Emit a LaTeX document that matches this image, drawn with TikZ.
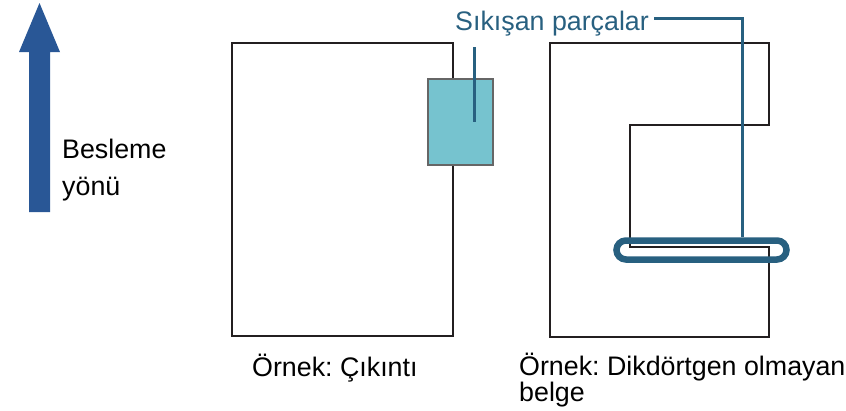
\documentclass[tikz,border=0pt]{standalone}
\usepackage{fontspec}
\setmainfont{Liberation Sans}
\usepackage{xcolor}
\usetikzlibrary{positioning}
\definecolor{feedblue}{RGB}{41,87,150}
\definecolor{jamblue}{RGB}{40,96,128}
\definecolor{bumpcyan}{RGB}{118,195,207}
\definecolor{paper}{RGB}{35,31,32}
\frenchspacing

\begin{document}
\begin{tikzpicture}[x=1pt, y=-1pt,
    txt/.style={inner sep=0pt, anchor=base west, font=\fontsize{26.8}{27}\selectfont},
    doc/.style={draw=paper, line width=2.6pt, line join=miter},
    ptr/.style={draw=jamblue, line width=3pt},
    jam/.style={draw=jamblue, line width=6.5pt, rounded corners=9.5pt, minimum width=170pt, minimum height=19pt, inner sep=0pt}]
    \useasboundingbox (0,0) rectangle (846,410);

    % feed direction
    \fill[feedblue] (29,212) -- (29,52) -- (19,52) -- (39.5,3) -- (60,52) -- (50,52) -- (50,212) -- cycle;
    \node[txt] (F1) at (62,158) {Besleme};
    \node[txt] (F2) at ([yshift=-37pt]F1.base west) {yönü};

    % document with a protrusion
    \node[draw=black!60, fill=bumpcyan, line width=1.2pt, minimum width=65pt, minimum height=86pt, inner sep=0pt] (P) at (460.5,122) {};
    \draw[doc] (P.north -| 453,0) -- (453,43) -- (232,43) -- (232,336) -- (453,336) -- (P.south -| 453,0);
    \coordinate (T1) at (474,47);
    \draw[ptr] (T1) -- (T1 |- P.center);
    \node[txt] (E1) at (252,376) {Örnek: Çıkıntı};

    % non-rectangular document
    \draw[doc] (550,43) -- (769,43) -- (769,125) -- (630,125) -- (630,247) -- (769,247) -- (769,337) -- (550,337) -- cycle;
    \node[jam] (J) at (701.5,250) {};
    \node[txt, text=jamblue] (L) at (455,30.5) {Sıkışan parçalar};
    \coordinate (K) at (742,18);
    \draw[ptr] ([xshift=5pt]L.east |- K) -- (K) -- (K |- J.north);
    \node[txt] (E2) at (519,375) {Örnek: Dikdörtgen olmayan};
    \node[txt] (E3) at ([yshift=-26pt]E2.base west) {belge};
\end{tikzpicture}
\end{document}
